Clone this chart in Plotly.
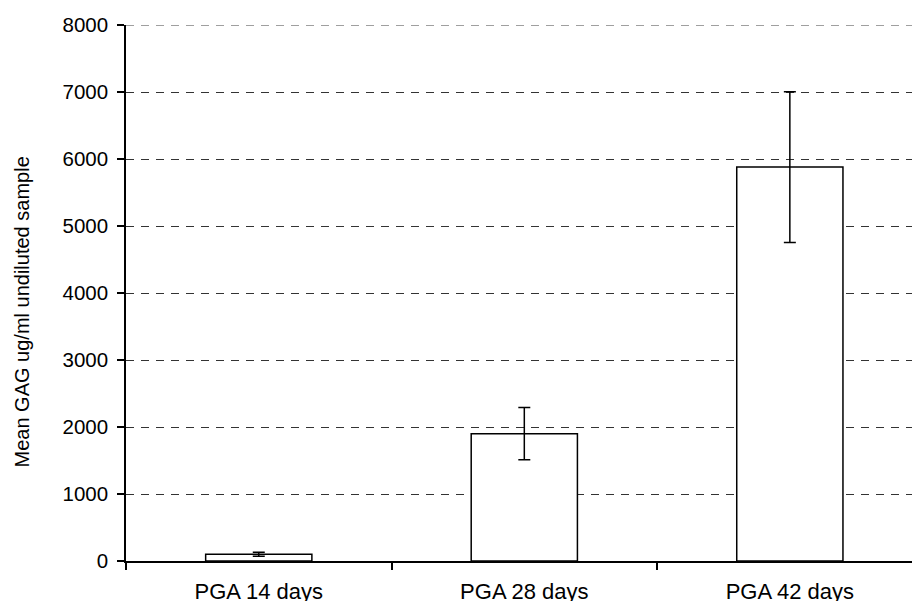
import plotly.graph_objects as go

# Mean GAG content per PGA culture duration
categories = ["PGA 14 days", "PGA 28 days", "PGA 42 days"]
mean_gag = [100, 1900, 5880]
gag_error = [30, 390, 1125]

y_ticks = [0, 1000, 2000, 3000, 4000, 5000, 6000, 7000, 8000]
y_title = "Mean GAG ug/ml undiluted sample"

font_family = "Arial, Liberation Sans, sans-serif"

plot_left, plot_top, plot_bottom = 126, 25, 40
fig_w, fig_h = 912, 601

fig = go.Figure(
    go.Bar(
        x=categories,
        y=mean_gag,
        width=0.4,
        marker=dict(color="white", line=dict(color="black", width=1.5)),
        error_y=dict(
            type="data",
            array=gag_error,
            visible=True,
            color="black",
            thickness=1.5,
            width=6,
        ),
    )
)

fig.update_layout(
    width=fig_w,
    height=fig_h,
    margin=dict(l=plot_left, r=0, t=plot_top, b=plot_bottom),
    paper_bgcolor="white",
    plot_bgcolor="white",
    showlegend=False,
    font=dict(family=font_family, size=20, color="black"),
)

fig.update_xaxes(
    type="category",
    range=[-0.5, 2.46],
    tickson="boundaries",
    ticks="outside",
    ticklen=7,
    tickwidth=1.5,
    tickcolor="black",
    showline=True,
    linecolor="black",
    linewidth=1.5,
    showgrid=False,
    zeroline=False,
    tickfont=dict(size=22),
    ticklabelstandoff=10,
    automargin=False,
)

fig.update_yaxes(
    range=[y_ticks[0], y_ticks[-1]],
    tickvals=y_ticks,
    ticks="outside",
    ticklen=7,
    tickwidth=1.5,
    tickcolor="black",
    showline=True,
    linecolor="black",
    linewidth=1.5,
    showgrid=True,
    gridcolor="#333333",
    gridwidth=1,
    griddash="8px,7px",
    zeroline=False,
    tickfont=dict(size=20.5),
    ticklabelstandoff=5,
    automargin=False,
)

# Top gridline sits on the edge of the plot area, so draw it explicitly
fig.add_shape(
    type="line",
    xref="paper",
    yref="y",
    x0=0,
    x1=1,
    y0=y_ticks[-1],
    y1=y_ticks[-1],
    line=dict(color="#808080", width=1.5, dash="8px,7px"),
    layer="below",
)

# Vertical axis title, centred slightly below the middle of the plot
plot_w = fig_w - plot_left
plot_h = fig_h - plot_top - plot_bottom
fig.add_annotation(
    text=y_title,
    textangle=-90,
    xref="paper",
    yref="paper",
    x=(21 - plot_left) / plot_w,
    y=(fig_h - plot_bottom - 312.5) / plot_h,
    xanchor="center",
    yanchor="middle",
    showarrow=False,
    font=dict(size=20, color="black"),
)

fig.write_html("out.html")
